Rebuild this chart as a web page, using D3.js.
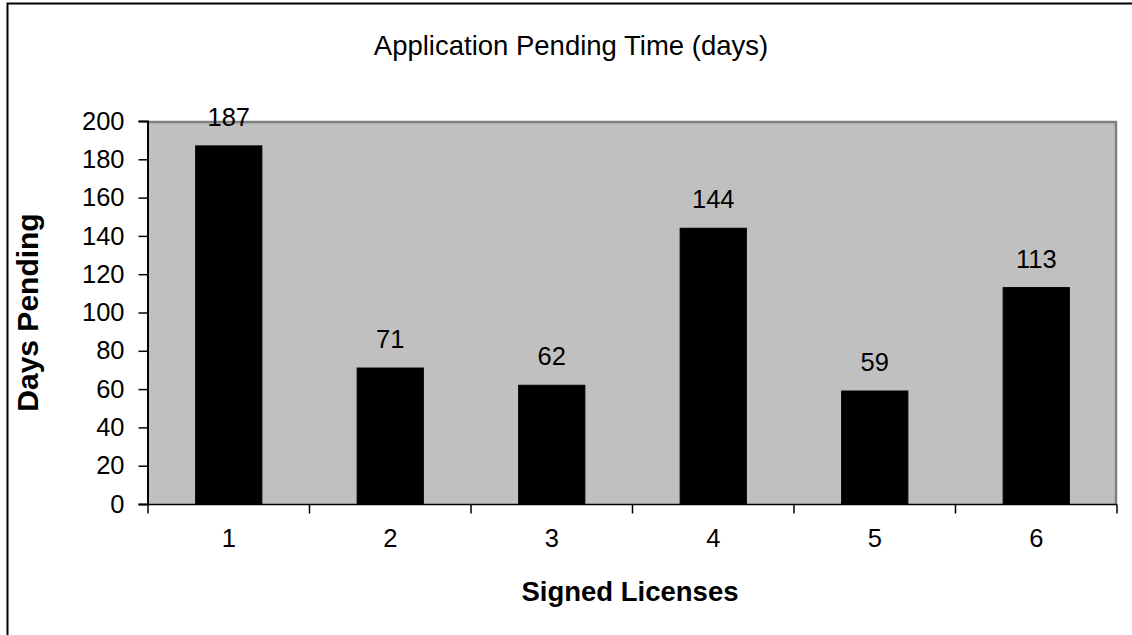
<!DOCTYPE html>
<html>
<head>
<meta charset="utf-8">
<script src="https://cdn.jsdelivr.net/npm/d3@7"></script>
<style>
  html, body { margin: 0; padding: 0; background: #fff; }
  svg { display: block; font-family: "Liberation Sans", Arial, sans-serif; }
</style>
</head>
<body>
<svg id="chart" width="1132" height="635"></svg>
<script>
// Pending time per signed license
const categories = ["1", "2", "3", "4", "5", "6"];
const daysPending = [187, 71, 62, 144, 59, 113];
const yTicks = [0, 20, 40, 60, 80, 100, 120, 140, 160, 180, 200];

const svg = d3.select("#chart");
const W = 1132, H = 635;
const plot = { left: 148, right: 1117, top: 121, bottom: 504 };

// Outer chart frame (runs past the bottom-right of the canvas)
svg.append("rect")
  .attr("x", 7.5).attr("y", 3.5)
  .attr("width", W + 20).attr("height", H + 20)
  .attr("fill", "#fff").attr("stroke", "#000").attr("stroke-width", 2);

const x = d3.scaleBand().domain(categories).range([plot.left, plot.right]).paddingInner(0.59).paddingOuter(0.295);
const xOuter = d3.scaleBand().domain(categories).range([plot.left, plot.right]);
const y = d3.scaleLinear().domain([0, 200]).range([plot.bottom, plot.top]);

// Plot area
svg.append("rect")
  .attr("x", plot.left).attr("y", plot.top)
  .attr("width", plot.right - plot.left).attr("height", plot.bottom - plot.top)
  .attr("fill", "#c0c0c0");
svg.append("path")
  .attr("d", `M${plot.left},${plot.top + 1}H${plot.right - 1}V${plot.bottom}`)
  .attr("fill", "none").attr("stroke", "#808080").attr("stroke-width", 2.5);

// Bars
svg.selectAll("rect.bar").data(daysPending).join("rect")
  .attr("class", "bar")
  .attr("x", (d, i) => x(categories[i]))
  .attr("y", d => y(d))
  .attr("width", x.bandwidth())
  .attr("height", d => y(0) - y(d))
  .attr("fill", "#000").attr("stroke", "#000").attr("stroke-width", 1);

// Value labels
svg.selectAll("text.val").data(daysPending).join("text")
  .attr("class", "val")
  .attr("x", (d, i) => x(categories[i]) + x.bandwidth() / 2)
  .attr("y", d => y(d) - 20)
  .attr("text-anchor", "middle")
  .attr("font-size", 25.5)
  .attr("fill", "#000")
  .text(d => d);

// Y axis
const yAxis = svg.append("g")
  .attr("transform", `translate(${plot.left - 0.5},0)`)
  .call(d3.axisLeft(y).tickValues(yTicks).tickSize(9).tickPadding(14));
yAxis.select(".domain").attr("stroke", "#000").attr("stroke-width", 2);
yAxis.selectAll(".tick line").attr("stroke", "#000").attr("stroke-width", 1.5);
yAxis.selectAll(".tick text").attr("font-size", 25.5).attr("fill", "#000")
  .attr("font-family", "Liberation Sans, Arial, sans-serif");

// X axis: ticks at category boundaries, labels centred in each band
const xAxisG = svg.append("g").attr("transform", `translate(0,${plot.bottom + 0.5})`);
xAxisG.append("line")
  .attr("x1", plot.left - 1).attr("x2", plot.right)
  .attr("stroke", "#000").attr("stroke-width", 1.5);
const boundaries = categories.map(c => xOuter(c)).concat([plot.right]);
xAxisG.selectAll("line.tk").data(boundaries).join("line")
  .attr("class", "tk")
  .attr("x1", d => d).attr("x2", d => d)
  .attr("y1", 0).attr("y2", 9)
  .attr("stroke", "#000").attr("stroke-width", 1.5);
xAxisG.selectAll("text").data(categories).join("text")
  .attr("x", c => xOuter(c) + xOuter.bandwidth() / 2)
  .attr("y", 42)
  .attr("text-anchor", "middle")
  .attr("font-size", 25.5)
  .text(c => c);

// Titles
svg.append("text")
  .attr("x", 571).attr("y", 55)
  .attr("text-anchor", "middle")
  .attr("font-size", 27.5)
  .text("Application Pending Time (days)");

svg.append("text")
  .attr("x", 630).attr("y", 601)
  .attr("text-anchor", "middle")
  .attr("font-size", 27.5).attr("font-weight", "bold")
  .text("Signed Licenses");

svg.append("text")
  .attr("transform", `translate(38,${(plot.top + plot.bottom) / 2}) rotate(-90)`)
  .attr("text-anchor", "middle")
  .attr("font-size", 30).attr("font-weight", "bold")
  .text("Days Pending");
</script>
</body>
</html>
